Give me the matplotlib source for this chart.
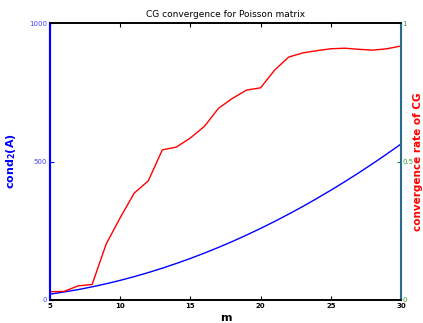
import matplotlib
matplotlib.use("Agg")
import matplotlib.pyplot as plt

m = list(range(5, 31))
cond2 = [21, 29, 37.5, 47.5, 58.6, 70.9, 84.4, 99.0, 114.9, 131.9, 150.0, 169.4,
         189.9, 211.5, 234.4, 258.4, 283.6, 310.0, 337.5, 366.3, 396.2, 427.2,
         459.4, 492.8, 527.4, 563.1]
rate = [0.030, 0.031, 0.051, 0.056, 0.202, 0.297, 0.386, 0.430, 0.542, 0.552,
        0.585, 0.627, 0.692, 0.728, 0.758, 0.766, 0.830, 0.877, 0.892, 0.900,
        0.907, 0.909, 0.905, 0.902, 0.907, 0.917]
xticks = [5, 10, 15, 20, 25, 30]
lticks = [0, 500, 1000]
rticks = [0, 0.5, 1]

fig = plt.figure(figsize=(4.23, 3.23), dpi=100)
ax = fig.add_axes([50/423, 1-300/323, 351/423, 277/323])
ax2 = ax.twinx()

ax.plot(m, cond2, color='#0000ff', lw=1.0)
ax2.plot(m, rate, color='#ff0000', lw=1.0)

ax.set_xlim(5, 30)
ax.set_ylim(0, 1000)
ax2.set_ylim(0, 1)
ax.set_xticks(xticks)
ax.set_xticklabels([str(v) for v in xticks], fontsize=5, fontweight='bold')
ax.set_yticks(lticks)
ax.set_yticklabels([str(v) for v in lticks], fontsize=5, color='#4444ff')
ax2.set_yticks(rticks)
ax2.set_yticklabels(['0', '0.5', '1'], fontsize=5, color='#33a033')

ax.tick_params(axis='x', direction='in', length=3, width=0.8, top=True, pad=2)
ax.tick_params(axis='y', direction='in', length=3, width=0.8, colors='#0000ff', pad=2)
ax.tick_params(axis='y', labelcolor='#4444ff')
ax2.tick_params(axis='y', direction='in', length=3, width=0.8, colors='#208020', pad=1)
ax2.tick_params(axis='y', labelcolor='#33a033')

for a in (ax, ax2):
    a.spines['top'].set_linewidth(1.2)
    a.spines['bottom'].set_linewidth(1.2)
ax.spines['left'].set_color('#0000ff')
ax.spines['left'].set_linewidth(1.5)
ax2.spines['left'].set_color('#0000ff')
ax2.spines['left'].set_linewidth(1.5)
ax2.spines['right'].set_color('#2a6a8a')
ax2.spines['right'].set_linewidth(1.5)
ax.spines['right'].set_visible(False)

ax.set_title('CG convergence for Poisson matrix', fontsize=6.5, pad=4)
ax.set_xlabel('m', fontsize=8, fontweight='bold', labelpad=3)
ax.set_ylabel(r'$\mathbf{cond_{2}(A)}$', fontsize=8, color='#0000ff')
ax.yaxis.set_label_coords(-0.09, 0.5)
ax2.set_ylabel('convergence rate of CG', fontsize=7.5, fontweight='bold', color='#ff0000',
               rotation=90, va='center', ha='center')
ax2.yaxis.set_label_coords((418.2-50)/351, 0.5)

fig.savefig('out.png', dpi=100)
